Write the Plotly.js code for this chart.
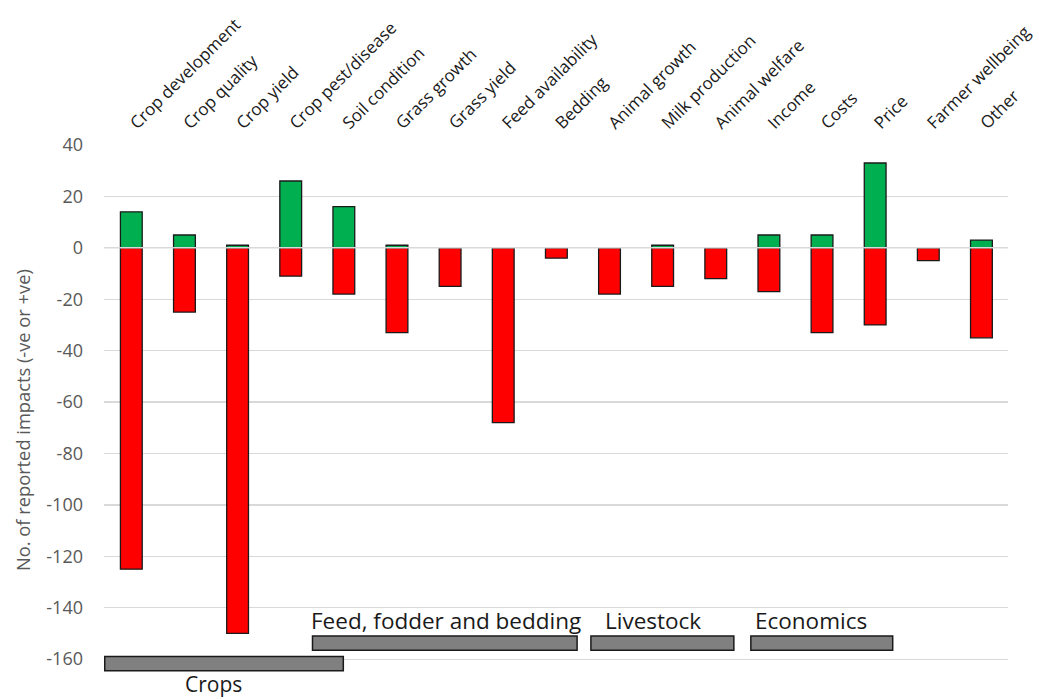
<!DOCTYPE html>
<html>
<head>
<meta charset="utf-8">
<script src="https://cdn.plot.ly/plotly-3.0.1.min.js"></script>
<style>html,body{margin:0;padding:0;background:#fff;}#chart{width:1039px;height:699px;}</style>
</head>
<body>
<div id="chart"></div>
<script>
const categories = ["Crop development","Crop quality","Crop yield","Crop pest/disease","Soil condition","Grass growth","Grass yield","Feed availability","Bedding","Animal growth","Milk production","Animal welfare","Income","Costs","Price","Farmer wellbeing","Other"];
const positiveImpacts = [14, 5, 1, 26, 16, 1, 0, 0, 0, 0, 1, 0, 5, 5, 33, 0, 3];
const negativeImpacts = [-125, -25, -150, -11, -18, -33, -15, -68, -4, -18, -15, -12, -17, -33, -30, -5, -35];
const yTicks = [40, 20, 0, -20, -40, -60, -80, -100, -120, -140, -160];

// category groups: name, category span of the grey band, band y values, label anchor
const groupNames = ["Crops", "Feed, fodder and bedding", "Livestock", "Economics"];
const groupStart = [-0.5, 3.41, 8.65, 11.66];
const groupEnd = [3.99, 8.39, 11.34, 14.33];
const groupTop = [-159, -151, -151, -151];
const groupBottom = [-164.5, -156.5, -156.5, -156.5];
const labelX = [1.55, 3.34, 8.88, 11.70];

const FONT = "Open Sans, sans-serif";

const traces = [
  {type: 'bar', x: categories, y: positiveImpacts, name: '+ve',
   marker: {color: '#00B050', line: {color: '#1a1a1a', width: 1.3}}},
  {type: 'bar', x: categories, y: negativeImpacts, name: '-ve',
   marker: {color: '#FF0000', line: {color: '#1a1a1a', width: 1.3}}}
];

const shapes = [];
const annotations = [];
for (let i = 0; i < groupNames.length; i++) {
  shapes.push({type: 'rect', xref: 'x', yref: 'y', x0: groupStart[i], x1: groupEnd[i],
    y0: groupBottom[i], y1: groupTop[i], fillcolor: '#808080',
    line: {color: '#1a1a1a', width: 1.5}, layer: 'above'});
  if (i === 0) {
    annotations.push({xref: 'x', yref: 'y', x: labelX[i], y: groupBottom[i],
      text: groupNames[i], showarrow: false, xanchor: 'center', yanchor: 'top',
      font: {family: FONT, size: 21, color: '#1a1a1a'}, yshift: 3});
  } else {
    annotations.push({xref: 'x', yref: 'y', x: labelX[i], y: groupTop[i],
      text: groupNames[i], showarrow: false, xanchor: 'left', yanchor: 'bottom',
      font: {family: FONT, size: 22.5, color: '#1a1a1a'}, yshift: -2});
  }
}
// y axis title placed as rotated text
annotations.push({xref: 'paper', yref: 'paper', x: (22 - 104) / 904, y: (690 - 401) / 545,
  text: 'No. of reported impacts (-ve or +ve)', textangle: -90, showarrow: false,
  xanchor: 'center', yanchor: 'middle', yshift: -19,
  font: {family: FONT, size: 18.3, color: '#595959'}});

shapes.push({type: 'line', xref: 'paper', yref: 'y', x0: 0, x1: 1, y0: 0, y1: 0,
  line: {color: '#d9d9d9', width: 1.5}, layer: 'above'});

const layout = {
  width: 1039, height: 699,
  margin: {l: 104, r: 31, t: 145, b: 9},
  paper_bgcolor: '#fff', plot_bgcolor: '#fff',
  barmode: 'relative', bargap: 0.59,
  showlegend: false,
  font: {family: FONT},
  xaxis: {side: 'top', type: 'category', tickangle: -45, showgrid: false, showline: false,
    ticks: '', ticklabelstandoff: 8, tickfont: {family: FONT, size: 17, color: '#1a1a1a'}, automargin: false},
  yaxis: {range: [-172, 40], tickvals: yTicks, ticktext: yTicks.map(String), showgrid: true,
    gridcolor: '#d9d9d9', gridwidth: 1.3, zeroline: false, showline: false, ticks: '',
    ticklabelstandoff: 20,
    tickfont: {family: FONT, size: 18, color: '#595959'}, automargin: false},
  shapes: shapes,
  annotations: annotations
};

Plotly.newPlot('chart', traces, layout, {displayModeBar: false, staticPlot: true});
</script>
</body>
</html>
